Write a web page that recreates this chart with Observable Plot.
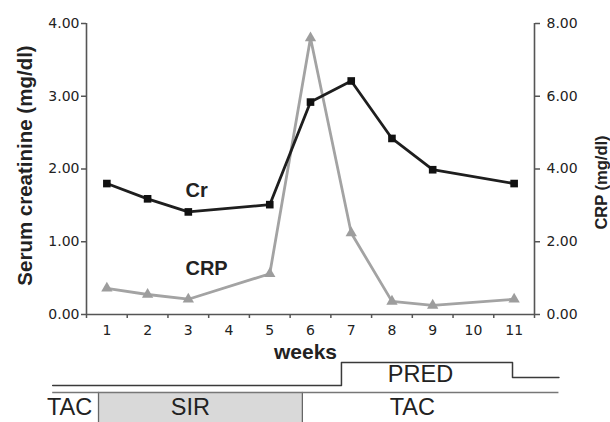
<!DOCTYPE html>
<html>
<head>
<meta charset="utf-8">
<script src="https://cdn.jsdelivr.net/npm/d3@7"></script>
<script src="https://cdn.jsdelivr.net/npm/@observablehq/plot@0.6"></script>
<style>
  body { margin: 0; background: #fff; }
  #chart { position: relative; width: 610px; height: 422px; overflow: hidden; }
</style>
</head>
<body>
<div id="chart"></div>
<script>
// ---- data ----
const weeks = [1, 2, 3, 5, 6, 7, 8, 9, 11];
const crValues = [1.80, 1.59, 1.41, 1.51, 2.92, 3.21, 2.42, 1.99, 1.80];
const crpValues = [0.72, 0.55, 0.42, 1.12, 7.60, 2.24, 0.36, 0.25, 0.42];
const weekTicks = [1, 2, 3, 4, 5, 6, 7, 8, 9, 10, 11];
const crTicks = [0, 1, 2, 3, 4];
const crpTicks = [0, 2, 4, 6, 8];
const seriesNames = ["Cr", "CRP"];
const seriesLabelWeek = [2.93, 2.93];
const seriesLabelValue = [1.70, 0.625]; // in Cr units

// treatment timeline (x in weeks, level in lane units)
const predWeek = [-0.33, 6.76, 6.76, 10.96, 10.96, 12.1];
const predLevel = [0, 0, 1, 1, 0.35, 0.35];
const drugNames = ["TAC", "SIR", "TAC"];
const drugStart = [-0.33, 0.795, 5.80];
const drugEnd = [0.795, 5.80, 12.1];
const drugLabelWeek = [0.083, 3.05, 8.50];
const predLabel = "PRED";
const predLabelWeek = 8.70;

// ---- derived tables ----
const ratio = crTicks[crTicks.length - 1] / crpTicks[crpTicks.length - 1];
const crData = weeks.map((w, i) => ({week: w, y: crValues[i]}));
const crpData = weeks.map((w, i) => ({week: w, y: crpValues[i] * ratio}));
const bounds = [weekTicks[0] - 0.5, ...weekTicks.map(w => w + 0.5)];
const xDomain = [bounds[0], bounds[bounds.length - 1]];
const seriesLabels = seriesNames.map((n, i) => ({name: n, week: seriesLabelWeek[i], y: seriesLabelValue[i]}));
const predSteps = predWeek.map((w, i) => ({week: w, level: predLevel[i]}));
const drugs = drugNames.map((d, i) => ({name: d, start: drugStart[i], end: drugEnd[i], labelWeek: drugLabelWeek[i]}));

const axisColor = "#555";
const textColor = "#222";
const sans = "Liberation Sans, Arial, sans-serif";

const main = Plot.plot({
  width: 610, height: 422,
  marginLeft: 86, marginRight: 76, marginTop: 23, marginBottom: 108,
  x: {domain: xDomain},
  y: {domain: [crTicks[0], crTicks[crTicks.length - 1]]},
  style: {fontFamily: "DejaVu Sans, sans-serif", color: textColor, background: "transparent"},
  marks: [
    Plot.ruleY([0], {stroke: axisColor, strokeWidth: 1.6}),
    Plot.ruleX([xDomain[0], xDomain[1]], {stroke: axisColor, strokeWidth: 1.6}),
    Plot.axisX({ticks: bounds, tickSize: 4, tickFormat: () => "", stroke: axisColor, strokeWidth: 1.5, label: null}),
    Plot.axisX({ticks: weekTicks, tickSize: 0, tickPadding: 11, fontSize: 14, fill: textColor, label: null}),
    Plot.axisY({ticks: crTicks, tickSize: 5, tickPadding: 2, tickFormat: d => d.toFixed(2), fontSize: 14,
      stroke: axisColor, strokeWidth: 1.5, fill: textColor, label: null}),
    Plot.axisY({anchor: "right", ticks: crpTicks.map(v => v * ratio), tickFormat: d => (d / ratio).toFixed(2),
      tickSize: 5, tickPadding: 7, fontSize: 14, stroke: axisColor, strokeWidth: 1.5, fill: textColor, label: null}),
    Plot.line(crpData, {x: "week", y: "y", stroke: "#a3a3a3", strokeWidth: 2.8}),
    Plot.dot(crpData, {x: "week", y: "y", symbol: "triangle", r: 4.2, fill: "#9d9d9d"}),
    Plot.line(crData, {x: "week", y: "y", stroke: "#1e1e1e", strokeWidth: 2.8}),
    Plot.dot(crData, {x: "week", y: "y", symbol: "square", r: 4.3, fill: "#111"}),
    Plot.text(seriesLabels, {x: "week", y: "y", text: "name", textAnchor: "start", lineAnchor: "middle",
      fontSize: 20, fontWeight: "bold", fontFamily: sans, fill: textColor}),
    Plot.text(["weeks"], {frameAnchor: "bottom", dx: -5, dy: 37.6, lineAnchor: "middle",
      fontSize: 21, fontWeight: "bold", fontFamily: sans, fill: textColor}),
    Plot.text(["Serum creatinine (mg/dl)"], {frameAnchor: "left", textAnchor: "middle", rotate: -90, dx: -61, dy: -3.5,
      lineAnchor: "middle", fontSize: 20.5, fontWeight: "bold", fontFamily: sans, fill: textColor}),
    Plot.text(["CRP (mg/dl)"], {frameAnchor: "right", textAnchor: "middle", rotate: -90, dx: 67, dy: 13.5,
      lineAnchor: "middle", fontSize: 16.5, fontWeight: "bold", fontFamily: sans, fill: textColor})
  ]
});

const timeline = Plot.plot({
  width: 610, height: 82,
  marginLeft: 86, marginRight: 76, marginTop: 0, marginBottom: 0,
  x: {domain: xDomain, axis: null},
  y: {domain: [-1.61, 1.957], axis: null},
  style: {position: "absolute", left: "0px", top: "340px", background: "transparent", color: textColor},
  marks: [
    Plot.rect(drugs.filter(d => d.name === "SIR"), {x1: "start", x2: "end", y1: -1.7, y2: -0.3, fill: "#d9d9d9"}),
    Plot.ruleX(drugs.slice(1).map(d => d.start), {y1: -1.7, y2: -0.3, stroke: "#666", strokeWidth: 1.3}),
    Plot.ruleY([-0.3], {x1: drugStart[0], x2: drugEnd[drugEnd.length - 1], stroke: "#777", strokeWidth: 1.5}),
    Plot.line(predSteps, {x: "week", y: "level", stroke: "#3a3a3a", strokeWidth: 1.5}),
    Plot.text(drugs, {x: "labelWeek", y: -0.957, text: "name", lineAnchor: "middle",
      fontSize: 23.5, fontFamily: sans, fill: textColor}),
    Plot.text([predLabel], {x: predLabelWeek, y: 0.478, lineAnchor: "middle",
      fontSize: 23.5, fontFamily: sans, fill: textColor})
  ]
});

const host = document.getElementById("chart");
host.appendChild(main);
host.appendChild(timeline);
</script>
</body>
</html>
